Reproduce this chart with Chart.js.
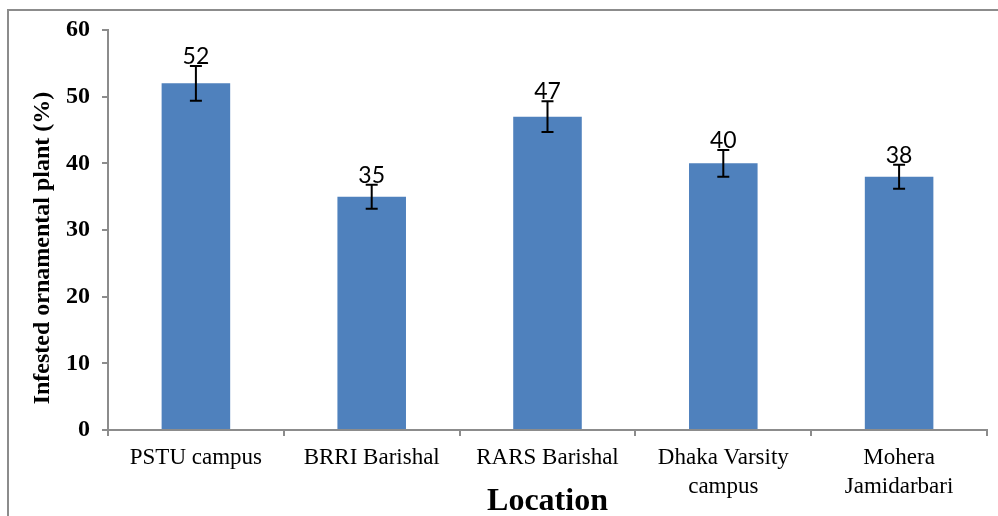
<!DOCTYPE html>
<html>
<head>
<meta charset="utf-8">
<script src="https://cdn.jsdelivr.net/npm/chart.js@4/dist/chart.umd.min.js"></script>
<style>
  html, body { margin: 0; padding: 0; background: #fff; overflow: hidden; }
  #wrap { position: relative; width: 998px; height: 516px; }
  #frame { position: absolute; left: 7px; top: 9px; width: 1010px; height: 530px; border: 2px solid #8c8c8c; box-sizing: border-box; }
  canvas { position: absolute; left: 0; top: 0; }
</style>
</head>
<body>
<div id="wrap">
  <div id="frame"></div>
  <canvas id="myChart" width="998" height="516"></canvas>
</div>
<script>
// dados
const locais = ['PSTU campus', 'BRRI Barishal', 'RARS Barishal', ['Dhaka Varsity', 'campus'], ['Mohera', 'Jamidarbari']];
const infestacao = [52, 35, 47, 40, 38];
const erros = [2.6, 1.8, 2.3, 2.0, 1.8];
const yTicks = [0, 10, 20, 30, 40, 50, 60];
const tituloY = 'Infested ornamental plant (%)';

// barras de erro + rótulos de valor + título do eixo y
const errorBars = {
    id: 'errorBars',
    afterDatasetsDraw(chart) {
        const ctx = chart.ctx;
        const y = chart.scales.y;
        const meta = chart.getDatasetMeta(0);
        ctx.save();
        ctx.strokeStyle = '#000';
        ctx.lineWidth = 2;
        meta.data.forEach((bar, i) => {
            const x = bar.x;
            const top = y.getPixelForValue(infestacao[i] + erros[i]);
            const bot = y.getPixelForValue(infestacao[i] - erros[i]);
            ctx.beginPath();
            ctx.moveTo(x, top); ctx.lineTo(x, bot);
            ctx.moveTo(x - 6, top); ctx.lineTo(x + 6, top);
            ctx.moveTo(x - 6, bot); ctx.lineTo(x + 6, bot);
            ctx.stroke();
            ctx.fillStyle = '#000';
            ctx.font = '23px Lato';
            ctx.textAlign = 'center';
            ctx.textBaseline = 'alphabetic';
            ctx.fillText(String(infestacao[i]), x, top - 2);
        });
        // título do eixo y (um pouco abaixo do centro, como no original)
        ctx.translate(43, 248);
        ctx.rotate(-Math.PI / 2);
        ctx.font = 'bold 24px "Liberation Serif"';
        ctx.textBaseline = 'middle';
        ctx.fillText(tituloY, 0, 0);
        ctx.restore();
    }
};

const ctx1 = document.getElementById('myChart');
new Chart(ctx1, {
    type: 'bar',
    data: {
        labels: locais,
        datasets: [{
            data: infestacao,
            backgroundColor: '#4F81BD',
            borderWidth: 0,
            barPercentage: 0.39,
            categoryPercentage: 1
        }]
    },
    options: {
        responsive: false,
        animation: false,
        layout: { padding: { left: 0, right: 11, top: 30, bottom: 0 } },
        plugins: { legend: { display: false }, tooltip: { enabled: false } },
        scales: {
            y: {
                min: 0, max: 60,
                afterBuildTicks: (s) => { s.ticks = yTicks.map(v => ({ value: v })); },
                afterFit: (s) => { s.width = 108; },
                border: { color: '#8c8c8c', width: 2 },
                grid: { drawOnChartArea: false, drawTicks: true, tickLength: 6, color: '#8c8c8c', lineWidth: 2 },
                ticks: { color: '#000', padding: 12, font: { family: 'Liberation Serif', size: 24, weight: 'bold' } }
            },
            x: {
                afterFit: (s) => { s.height = 86; },
                border: { color: '#8c8c8c', width: 2 },
                grid: { offset: true, drawOnChartArea: false, drawTicks: true, tickLength: 6, color: '#8c8c8c', lineWidth: 2 },
                ticks: { color: '#000', padding: 8, maxRotation: 0, autoSkip: false, font: { family: 'Liberation Serif', size: 23, lineHeight: 1.25 } },
                title: {
                    display: true,
                    text: 'Location',
                    color: '#000',
                    padding: { top: 0, bottom: -5 },
                    font: { family: 'Liberation Serif', size: 32, weight: 'bold' }
                }
            }
        }
    },
    plugins: [errorBars]
});
</script>
</body>
</html>
